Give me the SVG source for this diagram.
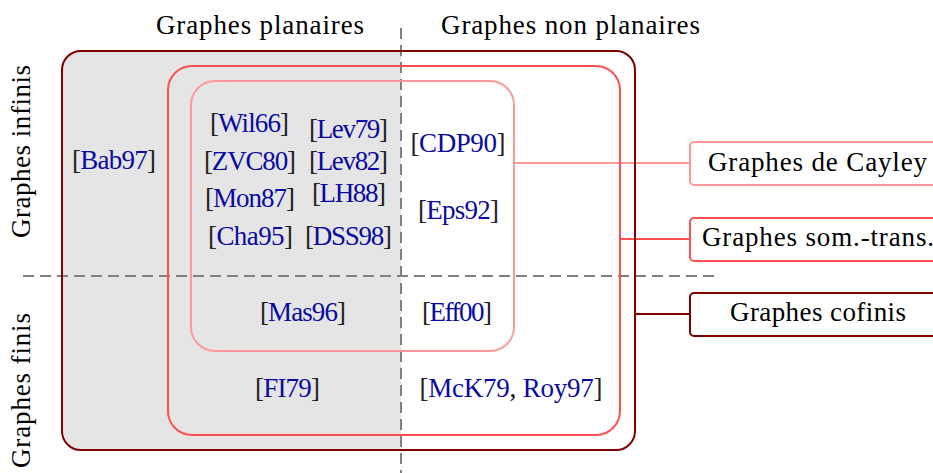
<svg xmlns="http://www.w3.org/2000/svg" width="933" height="473" viewBox="0 0 933 473">
<style>
text{font-family:"Liberation Serif","Times New Roman",serif;font-size:27px;fill:#000;text-anchor:middle}
.cite{fill:#0a0aa0}
.br{fill:#222}
.dash{stroke:#808080;stroke-width:2;stroke-dasharray:11 6;fill:none}
.outer{fill:none;stroke:#800000;stroke-width:2}
.mid{fill:none;stroke:#ff5050;stroke-width:2}
.inner{fill:none;stroke:#ff9999;stroke-width:2}
.lab{fill:#fff}
</style>
<defs>
<clipPath id="oc"><rect x="62" y="51" width="573" height="399" rx="19"/></clipPath>
</defs>
<g id="background">
<rect x="62" y="51" width="339" height="399" fill="#e5e5e5" clip-path="url(#oc)"/>
</g>
<g id="axes">
<line class="dash" x1="401" y1="28" x2="401" y2="473"/>
<line class="dash" x1="23" y1="276" x2="715" y2="276"/>
<text x="260" y="34" textLength="208">Graphes planaires</text>
<text x="570.5" y="34" textLength="259">Graphes non planaires</text>
<text transform="translate(30,151.5) rotate(-90)" textLength="173">Graphes infinis</text>
<text transform="translate(30,390.5) rotate(-90)" textLength="155">Graphes finis</text>
</g>
<g id="connectors">
<line x1="514" y1="163" x2="690" y2="163" stroke="#ff9999" stroke-width="2"/>
<line x1="620" y1="239" x2="690" y2="239" stroke="#ff5050" stroke-width="2"/>
<line x1="635" y1="314" x2="690" y2="314" stroke="#800000" stroke-width="2"/>
</g>
<g id="cofinis">
<rect class="outer" x="62" y="51" width="573" height="399" rx="19"/>
<rect class="outer lab" x="690" y="293" width="256" height="43" rx="4"/>
<text x="818" y="321" textLength="176">Graphes cofinis</text>
</g>
<g id="somtrans">
<rect class="mid" x="168" y="66" width="452" height="369" rx="24"/>
<rect class="mid lab" x="690" y="218" width="256" height="43" rx="4"/>
<text x="818" y="246" textLength="232">Graphes som.-trans.</text>
</g>
<g id="cayley">
<rect class="inner" x="191" y="81" width="323" height="270" rx="24"/>
<rect class="inner lab" x="690" y="142" width="256" height="43" rx="4"/>
<text x="817.5" y="171" textLength="219">Graphes de Cayley</text>
</g>
<g id="citations">
<text x="114" y="169" textLength="84"><tspan class="br">[</tspan><tspan class="cite">Bab97</tspan><tspan class="br">]</tspan></text>
<text x="249.5" y="132" textLength="79"><tspan class="br">[</tspan><tspan class="cite">Wil66</tspan><tspan class="br">]</tspan></text>
<text x="348.5" y="138" textLength="79"><tspan class="br">[</tspan><tspan class="cite">Lev79</tspan><tspan class="br">]</tspan></text>
<text x="250" y="170" textLength="92"><tspan class="br">[</tspan><tspan class="cite">ZVC80</tspan><tspan class="br">]</tspan></text>
<text x="348.5" y="170" textLength="79"><tspan class="br">[</tspan><tspan class="cite">Lev82</tspan><tspan class="br">]</tspan></text>
<text x="250" y="207" textLength="90"><tspan class="br">[</tspan><tspan class="cite">Mon87</tspan><tspan class="br">]</tspan></text>
<text x="349" y="202" textLength="74"><tspan class="br">[</tspan><tspan class="cite">LH88</tspan><tspan class="br">]</tspan></text>
<text x="250.5" y="245" textLength="85"><tspan class="br">[</tspan><tspan class="cite">Cha95</tspan><tspan class="br">]</tspan></text>
<text x="348.5" y="245" textLength="87"><tspan class="br">[</tspan><tspan class="cite">DSS98</tspan><tspan class="br">]</tspan></text>
<text x="458" y="152" textLength="95"><tspan class="br">[</tspan><tspan class="cite">CDP90</tspan><tspan class="br">]</tspan></text>
<text x="458.5" y="219" textLength="81"><tspan class="br">[</tspan><tspan class="cite">Eps92</tspan><tspan class="br">]</tspan></text>
<text x="303" y="321" textLength="86"><tspan class="br">[</tspan><tspan class="cite">Mas96</tspan><tspan class="br">]</tspan></text>
<text x="457" y="321" textLength="70"><tspan class="br">[</tspan><tspan class="cite">Eff00</tspan><tspan class="br">]</tspan></text>
<text x="287.5" y="397" textLength="65"><tspan class="br">[</tspan><tspan class="cite">FI79</tspan><tspan class="br">]</tspan></text>
<text x="511" y="397" textLength="183"><tspan class="br">[</tspan><tspan class="cite">McK79</tspan>, <tspan class="cite">Roy97</tspan><tspan class="br">]</tspan></text>
</g>
</svg>
